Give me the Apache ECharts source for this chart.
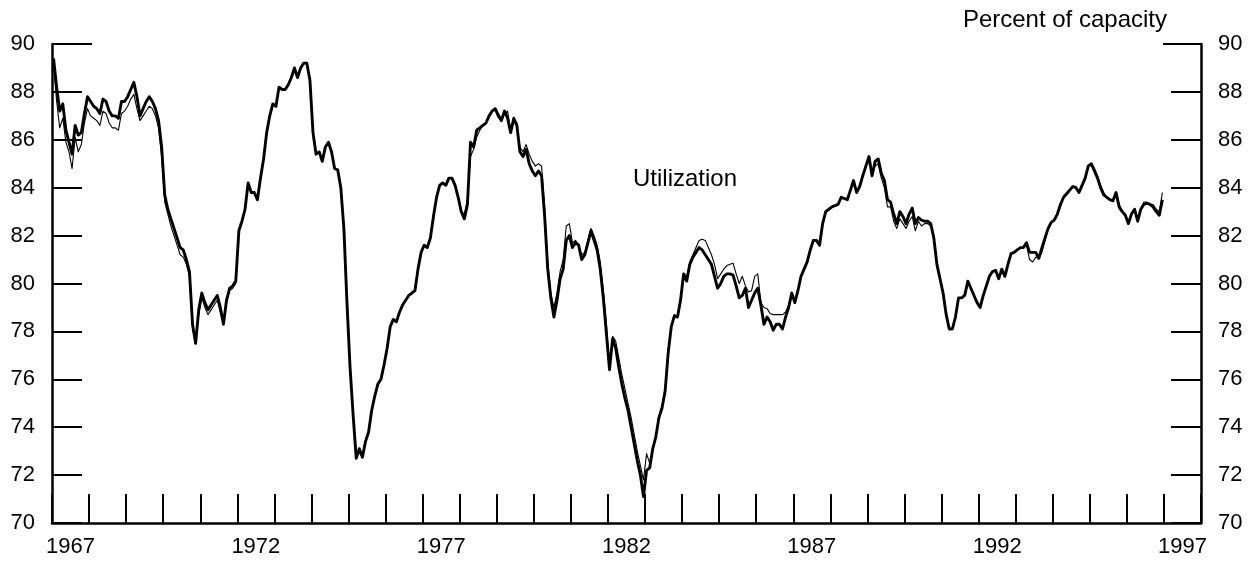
<!DOCTYPE html>
<html>
<head>
<meta charset="utf-8">
<script src="https://cdn.jsdelivr.net/npm/echarts@6/dist/echarts.min.js"></script>
<style>html,body{margin:0;padding:0;background:#fff}#c{width:1258px;height:561px}</style>
</head>
<body>
<div id="c"></div>
<script>
// Year categories for the bottom axis (one band per year)
const years = [1967,1968,1969,1970,1971,1972,1973,1974,1975,1976,1977,1978,1979,1980,1981,1982,1983,1984,1985,1986,1987,1988,1989,1990,1991,1992,1993,1994,1995,1996,1997];
// Value-axis tick values (percent of capacity)
const yTicks = [70,72,74,76,78,80,82,84,86,88,90];
const firstYear = 1967;

// Heavy line: monthly utilization, Jan 1967 - Dec 1996
const heavyLine = [
  89.4, 88.2, 87.2, 87.5, 86.4, 85.9, 85.4, 86.6, 86.2, 86.3, 87.1, 87.8, // 1967
  87.6, 87.4, 87.3, 87.1, 87.7, 87.6, 87.2, 87.0, 87.0, 86.9, 87.6, 87.6, // 1968
  87.8, 88.1, 88.4, 87.8, 87.0, 87.3, 87.6, 87.8, 87.6, 87.3, 86.8, 85.7, // 1969
  83.7, 83.1, 82.7, 82.3, 81.9, 81.5, 81.4, 81.0, 80.5, 78.3, 77.5, 78.9, // 1970
  79.6, 79.2, 78.9, 79.1, 79.3, 79.5, 79.0, 78.3, 79.3, 79.8, 79.9, 80.1, // 1971
  82.2, 82.6, 83.1, 84.2, 83.8, 83.8, 83.5, 84.4, 85.2, 86.3, 87.0, 87.5, // 1972
  87.4, 88.2, 88.1, 88.1, 88.3, 88.6, 89.0, 88.6, 89.0, 89.2, 89.2, 88.5, // 1973
  86.3, 85.4, 85.5, 85.1, 85.7, 85.9, 85.5, 84.8, 84.75, 84.0, 82.3, 79.2, // 1974
  76.5, 74.5, 72.7, 73.1, 72.75, 73.4, 73.8, 74.7, 75.3, 75.8, 76.0, 76.6, // 1975
  77.3, 78.2, 78.5, 78.4, 78.8, 79.1, 79.3, 79.5, 79.6, 79.7, 80.6, 81.3, // 1976
  81.6, 81.5, 81.9, 82.8, 83.6, 84.1, 84.2, 84.1, 84.4, 84.4, 84.1, 83.6, // 1977
  83.0, 82.7, 83.3, 85.9, 85.7, 86.4, 86.5, 86.6, 86.7, 87.0, 87.2, 87.3, // 1978
  87.0, 86.8, 87.2, 86.9, 86.3, 86.9, 86.6, 85.5, 85.3, 85.6, 85.0, 84.7, // 1979
  84.5, 84.7, 84.5, 82.8, 80.6, 79.4, 78.6, 79.3, 80.2, 80.6, 81.8, 82.0, // 1980
  81.5, 81.7, 81.6, 81.0, 81.2, 81.7, 82.2, 81.8, 81.4, 80.6, 79.4, 77.9, // 1981
  76.4, 77.7, 77.3, 76.5, 75.8, 75.2, 74.7, 74.0, 73.3, 72.6, 72.0, 71.1, // 1982
  72.2, 72.3, 73.1, 73.6, 74.4, 74.8, 75.5, 77.1, 78.2, 78.65, 78.6, 79.3, // 1983
  80.4, 80.1, 80.8, 81.1, 81.3, 81.5, 81.4, 81.2, 81.0, 80.8, 80.3, 79.8, // 1984
  80.0, 80.3, 80.4, 80.4, 80.35, 79.9, 79.4, 79.5, 79.8, 79.0, 79.3, 79.6, // 1985
  79.8, 79.1, 78.3, 78.6, 78.4, 78.05, 78.3, 78.3, 78.1, 78.6, 79.0, 79.6, // 1986
  79.2, 79.7, 80.3, 80.6, 80.9, 81.4, 81.8, 81.8, 81.6, 82.5, 83.0, 83.1, // 1987
  83.2, 83.25, 83.3, 83.6, 83.55, 83.5, 83.9, 84.3, 83.8, 84.05, 84.5, 84.9, // 1988
  85.3, 84.5, 85.1, 85.2, 84.6, 84.3, 83.5, 83.4, 82.9, 82.5, 83.0, 82.8, // 1989
  82.5, 82.9, 83.15, 82.5, 82.75, 82.65, 82.6, 82.6, 82.5, 81.9, 80.8, 80.2, // 1990
  79.6, 78.7, 78.1, 78.1, 78.6, 79.4, 79.4, 79.5, 80.1, 79.8, 79.5, 79.2, // 1991
  79.0, 79.5, 79.9, 80.3, 80.5, 80.55, 80.2, 80.6, 80.3, 80.8, 81.25, 81.3, // 1992
  81.4, 81.5, 81.5, 81.7, 81.3, 81.3, 81.3, 81.05, 81.5, 81.9, 82.3, 82.55, // 1993
  82.65, 82.9, 83.3, 83.6, 83.75, 83.9, 84.05, 84.0, 83.8, 84.1, 84.4, 84.9, // 1994
  85.0, 84.7, 84.4, 84.0, 83.7, 83.6, 83.5, 83.45, 83.8, 83.2, 83.0, 82.85, // 1995
  82.5, 82.9, 83.1, 82.6, 83.1, 83.3, 83.35, 83.3, 83.2, 83.0, 82.85, 83.5  // 1996
];

// Light line: monthly utilization (alternate series), Jan 1967 - Dec 1996
const lightLine = [
  89.2, 87.6, 86.5, 86.9, 85.9, 85.5, 84.8, 86.1, 85.5, 85.8, 86.7, 87.3, // 1967
  87.0, 86.9, 86.8, 86.6, 87.2, 87.1, 86.7, 86.5, 86.5, 86.4, 87.1, 87.2, // 1968
  87.4, 87.7, 87.9, 87.3, 86.8, 87.0, 87.2, 87.4, 87.3, 87.0, 86.5, 85.3, // 1969
  83.4, 82.9, 82.4, 82.0, 81.6, 81.2, 81.1, 80.8, 80.3, 78.1, 77.6, 78.7, // 1970
  79.4, 79.0, 78.7, 78.9, 79.1, 79.3, 78.8, 78.3, 79.2, 79.7, 79.8, 80.0, // 1971
  82.2, 82.6, 83.1, 84.2, 83.8, 83.8, 83.5, 84.4, 85.2, 86.3, 87.0, 87.5, // 1972
  87.4, 88.2, 88.1, 88.1, 88.3, 88.6, 89.0, 88.6, 89.0, 89.2, 89.2, 88.5, // 1973
  86.3, 85.4, 85.5, 85.1, 85.7, 85.9, 85.5, 84.8, 84.75, 84.0, 82.3, 79.2, // 1974
  76.5, 74.5, 72.7, 73.1, 72.75, 73.4, 73.8, 74.7, 75.3, 75.8, 76.0, 76.6, // 1975
  77.3, 78.2, 78.5, 78.4, 78.8, 79.1, 79.3, 79.5, 79.6, 79.7, 80.6, 81.3, // 1976
  81.6, 81.5, 81.9, 82.8, 83.6, 84.1, 84.2, 84.1, 84.4, 84.4, 84.1, 83.6, // 1977
  83.0, 82.9, 83.5, 85.3, 85.6, 86.1, 86.4, 86.6, 86.7, 87.0, 87.2, 87.3, // 1978
  87.1, 86.9, 87.1, 87.2, 86.4, 86.8, 86.7, 85.7, 85.5, 85.8, 85.4, 85.1, // 1979
  84.9, 85.0, 84.9, 83.2, 80.9, 79.6, 79.0, 79.6, 80.5, 81.0, 82.4, 82.5, // 1980
  81.7, 81.8, 81.6, 81.2, 81.3, 81.8, 82.3, 82.0, 81.6, 80.9, 79.7, 78.3, // 1981
  76.5, 77.8, 77.6, 76.9, 76.2, 75.6, 75.0, 74.4, 73.7, 73.0, 72.4, 71.8, // 1982
  72.9, 72.5, 73.1, 73.6, 74.4, 74.9, 75.6, 77.2, 78.2, 78.7, 78.6, 79.4, // 1983
  80.4, 80.3, 80.9, 81.2, 81.5, 81.8, 81.85, 81.8, 81.5, 81.2, 80.8, 80.2, // 1984
  80.4, 80.6, 80.75, 80.8, 80.85, 80.4, 80.0, 80.3, 79.9, 79.65, 79.7, 80.3, // 1985
  80.4, 79.2, 79.0, 78.95, 78.75, 78.7, 78.7, 78.7, 78.7, 78.8, 79.1, 79.6, // 1986
  79.2, 79.7, 80.3, 80.6, 80.9, 81.4, 81.8, 81.8, 81.6, 82.5, 83.0, 83.1, // 1987
  83.2, 83.25, 83.3, 83.6, 83.55, 83.5, 83.9, 84.3, 83.8, 84.05, 84.5, 84.9, // 1988
  85.1, 84.6, 84.9, 85.0, 84.4, 84.0, 83.2, 83.2, 82.6, 82.3, 82.7, 82.5, // 1989
  82.3, 82.6, 82.8, 82.2, 82.6, 82.4, 82.5, 82.5, 82.4, 81.9, 80.8, 80.2, // 1990
  79.6, 78.7, 78.1, 78.1, 78.6, 79.4, 79.4, 79.5, 80.1, 79.8, 79.5, 79.2, // 1991
  79.0, 79.5, 79.9, 80.3, 80.5, 80.55, 80.2, 80.6, 80.3, 80.8, 81.25, 81.3, // 1992
  81.4, 81.5, 81.5, 81.6, 81.0, 80.9, 81.1, 81.05, 81.3, 81.8, 82.3, 82.55, // 1993
  82.65, 82.9, 83.3, 83.6, 83.75, 83.9, 84.05, 84.0, 83.8, 84.1, 84.4, 84.9, // 1994
  85.0, 84.8, 84.5, 84.1, 83.8, 83.6, 83.5, 83.5, 83.8, 83.3, 83.0, 82.9, // 1995
  82.5, 82.9, 83.1, 82.7, 83.1, 83.4, 83.4, 83.3, 83.3, 83.1, 83.0, 83.8  // 1996
];

const unitLabel = 'Percent of capacity';
const seriesLabel = 'Utilization';

// month index -> decimal year at mid-month
const toPairs = arr => arr.map((v, i) => [firstYear + Math.floor(i / 12) + ((i % 12) + 0.5) / 12, v]);

const FONT = '"Liberation Sans", Arial, Helvetica, sans-serif';
const chart = echarts.init(document.getElementById('c'), null, {renderer: 'canvas'});

const yAxisBase = (pos) => ({
  type: 'value', position: pos,
  min: yTicks[0], max: yTicks[yTicks.length - 1], interval: yTicks[1] - yTicks[0],
  axisLine: {show: true, lineStyle: {color: '#000', width: 2.5}},
  axisTick: {show: true, inside: true, length: 30, lineStyle: {color: '#000', width: 2}},
  axisLabel: {show: true, margin: 17, color: '#000', fontFamily: FONT, fontSize: 22},
  splitLine: {show: false}
});

chart.setOption({
  animation: false,
  backgroundColor: '#fff',
  grid: {left: 52, right: 57, top: 44, bottom: 38, containLabel: false},
  title: [
    {text: unitLabel, right: 91, top: 8, padding: 0,
     textStyle: {fontFamily: FONT, fontSize: 24, fontWeight: 'normal', color: '#000'}},
    {text: seriesLabel, left: 633, top: 167, padding: 0,
     textStyle: {fontFamily: FONT, fontSize: 24, fontWeight: 'normal', color: '#000'}}
  ],
  xAxis: [
    {
      type: 'category', data: years, boundaryGap: true, position: 'bottom',
      axisLine: {show: true, lineStyle: {color: '#000', width: 2.5}},
      axisTick: {show: true, inside: true, length: 29, interval: 0, lineStyle: {color: '#000', width: 2}},
      axisLabel: {show: true, interval: 4, margin: 13, color: '#000', fontFamily: FONT, fontSize: 22},
      splitLine: {show: false}
    },
    {type: 'value', min: firstYear, max: years[years.length - 1] + 1, show: false, splitLine: {show: false}}
  ],
  yAxis: [yAxisBase('left'), yAxisBase('right')],
  series: [
    {type: 'line', name: 'heavy', xAxisIndex: 1, yAxisIndex: 0, data: toPairs(heavyLine),
     showSymbol: false, symbol: 'none', lineStyle: {color: '#000', width: 2.9, join: 'round'}, z: 3},
    {type: 'line', name: 'light', xAxisIndex: 1, yAxisIndex: 0, data: toPairs(lightLine),
     showSymbol: false, symbol: 'none', lineStyle: {color: '#000', width: 1.1, join: 'round'}, z: 4}
  ]
});

// Longer top tick at 90 on both value axes
const yTop = chart.convertToPixel({yAxisIndex: 0}, yTicks[yTicks.length - 1]);
const xL = chart.convertToPixel({xAxisIndex: 1}, firstYear);
const xR = chart.convertToPixel({xAxisIndex: 1}, years[years.length - 1] + 1);
chart.setOption({
  graphic: [
    {type: 'line', shape: {x1: xL, y1: yTop, x2: xL + 40, y2: yTop}, style: {stroke: '#000', lineWidth: 2}, z: 10},
    {type: 'line', shape: {x1: xR - 38, y1: yTop, x2: xR, y2: yTop}, style: {stroke: '#000', lineWidth: 2}, z: 10}
  ]
});
</script>
</body>
</html>
